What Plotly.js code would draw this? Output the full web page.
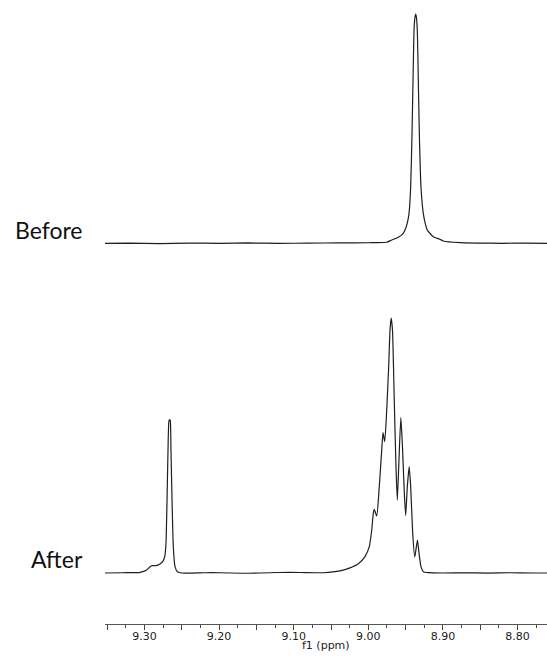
<!DOCTYPE html>
<html>
<head>
<meta charset="utf-8">
<script src="https://cdn.plot.ly/plotly-3.0.1.min.js"></script>
<style>html,body{margin:0;padding:0;background:#fff;}#chart{width:547px;height:662px;}</style>
</head>
<body>
<div id="chart"></div>
<script>
// Chemical shift (ppm) and relative intensity for the "Before" spectrum
const beforePpm = [9.3530, 9.3200, 9.2800, 9.2400, 9.2000, 9.1600, 9.1200, 9.0800, 9.0400, 9.0000, 8.9900,
  8.9753, 8.9686, 8.9598, 8.9540, 8.9508, 8.9480, 8.9454, 8.9432, 8.9414, 8.9400, 8.9387, 8.9375, 8.9365, 8.9355, 8.9343,
  8.9330, 8.9316, 8.9294, 8.9263, 8.9235, 8.9209, 8.9129, 8.9039, 8.8995, 8.8771, 8.8500, 8.8200, 8.7900, 8.7605];
const beforeInt = [0.0, 0.1, -0.1, 0.1, 0.0, 0.15, -0.05, 0.1, 0.15, 0.25, 0.3,
  0.44, 1.44, 2.62, 4.0, 5.80, 8.5, 13.08, 24.68, 47.97, 72.0, 93.0, 98.5, 100.0, 98.5, 93.0,
  72.0, 47.97, 24.68, 13.08, 8.5, 5.80, 2.88, 1.74, 1.0, 0.26, 0.1, 0.0, 0.1, 0.0];

// Chemical shift (ppm) and relative intensity for the "After" spectrum
const afterPpm = [9.3530, 9.3300, 9.3060, 9.2971, 9.2926, 9.2895, 9.2846, 9.2792, 9.2756, 9.2729, 9.2712,
  9.2698, 9.2685, 9.2672, 9.2662, 9.2654, 9.2645, 9.2631, 9.2614, 9.2591, 9.2560, 9.2501, 9.2200, 9.1988,
  9.1700, 9.1452, 9.1200, 9.0916, 9.0600, 9.0379, 9.0245, 9.0134, 9.0044, 8.9987, 8.9954, 8.9933, 8.9920,
  8.9887, 8.9853, 8.9820, 8.9803, 8.9780, 8.9753, 8.9727, 8.9709, 8.9693, 8.9676, 8.9652, 8.9629, 8.9611,
  8.9589, 8.9564, 8.9544, 8.9517, 8.9499, 8.9477, 8.9452, 8.9432, 8.9405, 8.9377, 8.9341, 8.9320, 8.9294,
  8.9263, 8.9196, 8.9000, 8.8700, 8.8400, 8.8100, 8.7800, 8.7605];
const afterInt = [0.0, 0.1, 0.27, 1.18, 2.47, 2.86, 2.86, 3.53, 4.43, 6.39, 11.65,
  28.63, 48.24, 59.73, 60.2, 59.73, 48.24, 28.63, 10.31, 2.47, 0.51, 0.0, 0.1, 0.1,
  -0.1, 0.0, 0.2, 0.2, 0.1, 0.8, 2.0, 3.60, 6.39, 10.31, 16.86, 23.41, 24.98,
  22.35, 33.84, 48.24, 55.02, 51.49, 63.92, 80.90, 95.29, 100.0, 95.29, 67.84, 41.69, 28.63,
  44.31, 60.98, 50.86, 31.25, 22.55, 33.84, 41.69, 33.84, 15.57, 6.27, 12.94, 7.73, 2.47,
  0.51, 0.12, 0.0, 0.1, -0.05, 0.1, 0.0, 0.0];

const spectrumLabels = ["Before", "After"];
const tickValues = [9.35, 9.30, 9.25, 9.20, 9.15, 9.10, 9.05, 9.00, 8.95, 8.90, 8.85, 8.80];
const tickLabels = ["", "9.30", "", "9.20", "", "9.10", "", "9.00", "", "8.90", "", "8.80"];
const xTitle = "f1 (ppm)";

const lineStyle = {color: "#1e1e1e", width: 1.2, shape: "spline", smoothing: 0.5};
const traces = [
  {x: beforePpm, y: beforeInt, type: "scatter", mode: "lines", line: lineStyle, xaxis: "x", yaxis: "y2", hoverinfo: "skip"},
  {x: afterPpm, y: afterInt, type: "scatter", mode: "lines", line: lineStyle, xaxis: "x", yaxis: "y", hoverinfo: "skip"}
];

const labelFont = {family: "Lato", size: 23, color: "#111111"};
const layout = {
  width: 547, height: 662,
  margin: {l: 105, r: 0, t: 0, b: 38},
  paper_bgcolor: "#ffffff", plot_bgcolor: "#ffffff",
  showlegend: false,
  xaxis: {
    range: [9.35295, 8.76046], anchor: "free", position: 0,
    showgrid: false, zeroline: false,
    showline: true, linecolor: "#555555", linewidth: 1,
    ticks: "outside", ticklen: 5, tickcolor: "#444444", tickwidth: 1,
    tickmode: "array", tickvals: tickValues, ticktext: tickLabels,
    ticklabelstandoff: -3,
    tickfont: {family: "DejaVu Sans", size: 11, color: "#222222"},
    minor: {tickmode: "linear", tick0: 8.8, dtick: 0.025, ticks: "outside", ticklen: 2.5, tickcolor: "#444444", showgrid: false}
  },
  yaxis: {domain: [0.04087, 0.51082], range: [-10, 105], visible: false, fixedrange: true},
  yaxis2: {domain: [0.57335, 0.99595], range: [-10, 105], visible: false, fixedrange: true},
  annotations: [
    {text: spectrumLabels[0], xref: "paper", yref: "paper", x: -0.045, y: 0.6314, xanchor: "right", yanchor: "middle", showarrow: false, font: labelFont},
    {text: spectrumLabels[1], xref: "paper", yref: "paper", x: -0.045, y: 0.1042, xanchor: "right", yanchor: "middle", showarrow: false, font: labelFont},
    {text: xTitle, xref: "paper", yref: "paper", x: 0.5, y: -0.0345, xanchor: "center", yanchor: "middle", showarrow: false,
     font: {family: "DejaVu Sans", size: 11, color: "#222222"}}
  ]
};

Plotly.newPlot("chart", traces, layout, {displayModeBar: false, staticPlot: true});
</script>
</body>
</html>
